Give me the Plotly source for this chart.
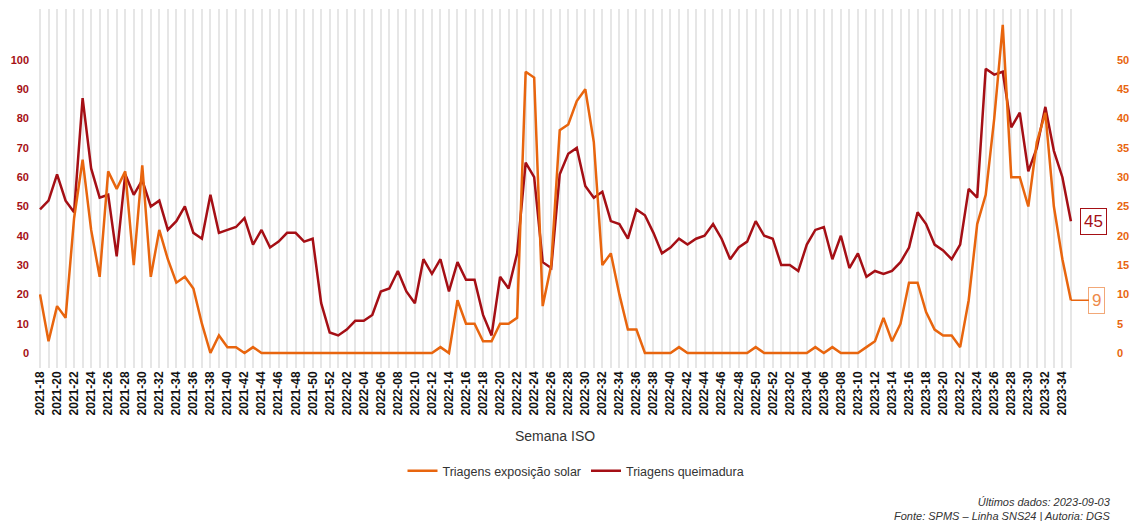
import plotly.graph_objects as go

# Semanas ISO (2021-18 a 2023-35)
semanas = ([f"2021-{w:02d}" for w in range(18, 53)]
           + [f"2022-{w:02d}" for w in range(1, 53)]
           + [f"2023-{w:02d}" for w in range(1, 36)])

# Triagens queimadura (eixo esquerdo)
queimadura = [
    49, 52, 61, 52, 48, 87, 63, 53, 54, 33, 61, 54, 59, 50, 52, 42, 45, 50, 41, 39,
    54, 41, 42, 43, 46, 37, 42, 36, 38, 41, 41, 38, 39, 17, 7, 6, 8, 11, 11, 13,
    21, 22, 28, 21, 17, 32, 27, 32, 21, 31, 25, 25, 13, 6, 26, 22, 34, 65, 60, 31,
    29, 61, 68, 70, 57, 53, 55, 45, 44, 39, 49, 47, 41, 34, 36, 39, 37, 39, 40, 44,
    39, 32, 36, 38, 45, 40, 39, 30, 30, 28, 37, 42, 43, 32, 40, 29, 34, 26, 28, 27,
    28, 31, 36, 48, 44, 37, 35, 32, 37, 56, 53, 97, 95, 96, 77, 82, 62, 70, 84, 69,
    60, 45,
]

# Triagens exposição solar (eixo direito)
exposicao = [
    10, 2, 8, 6, 23, 33, 21, 13, 31, 28, 31, 15, 32, 13, 21, 16, 12, 13, 11, 5,
    0, 3, 1, 1, 0, 1, 0, 0, 0, 0, 0, 0, 0, 0, 0, 0, 0, 0, 0, 0,
    0, 0, 0, 0, 0, 0, 0, 1, 0, 9, 5, 5, 2, 2, 5, 5, 6, 48, 47, 8,
    15, 38, 39, 43, 45, 36, 15, 17, 10, 4, 4, 0, 0, 0, 0, 1, 0, 0, 0, 0,
    0, 0, 0, 0, 1, 0, 0, 0, 0, 0, 0, 1, 0, 1, 0, 0, 0, 1, 2, 6,
    2, 5, 12, 12, 7, 4, 3, 3, 1, 9, 22, 27, 40, 56, 30, 30, 25, 36, 41, 25,
    16, 9,
]

ticks_esq = list(range(0, 101, 10))
ticks_dir = list(range(0, 51, 5))

VERMELHO = '#a50f15'
LARANJA = '#e8650e'
FONTE = 'Liberation Sans, Arial, sans-serif'

fig = go.Figure()

fig.add_trace(
    go.Scatter(
        x=semanas,
        y=exposicao,
        name='Triagens exposição solar',
        mode='lines',
        line=dict(color=LARANJA, width=2.5),
        yaxis='y2'
    )
)

fig.add_trace(
    go.Scatter(
        x=semanas,
        y=queimadura,
        name='Triagens queimadura',
        mode='lines',
        line=dict(color=VERMELHO, width=2.5)
    )
)

# Etiquetas do último valor
fig.add_annotation(
    x=semanas[-1], y=queimadura[-1], xref='x', yref='y',
    text=str(queimadura[-1]), showarrow=False, xshift=23,
    font=dict(family=FONTE, size=17, color=VERMELHO),
    bgcolor='white', bordercolor=VERMELHO, borderwidth=1, borderpad=3
)
fig.add_annotation(
    x=semanas[-1], y=exposicao[-1], xref='x', yref='y2',
    text=str(exposicao[-1]), showarrow=True, arrowhead=0,
    arrowcolor=LARANJA, arrowwidth=1.5, ax=26, ay=0,
    font=dict(family=FONTE, size=17, color='#ee8a4a'),
    bgcolor='white', bordercolor='#f2a878', borderwidth=1, borderpad=3
)

# Título do eixo x centrado nos dados
fig.add_annotation(
    x=(len(semanas) - 1) / 2, y=-0.19, xref='x', yref='paper',
    xanchor='center', yanchor='middle', showarrow=False,
    text='Semana ISO', font=dict(family=FONTE, size=14, color='#333333')
)

fig.add_annotation(
    x=1, y=-0.393, xref='paper', yref='paper',
    xanchor='right', yanchor='middle', align='right', showarrow=False,
    text='Últimos dados: 2023-09-03<br>Fonte: SPMS – Linha SNS24 | Autoria: DGS',
    font=dict(family=FONTE, size=11, color='#333333', style='italic')
)

fig.update_layout(
    template='none',
    width=1131,
    height=521,
    margin=dict(l=39, r=18, t=9, b=153),
    paper_bgcolor='white',
    plot_bgcolor='white',
    font=dict(family=FONTE, color='#333333'),
    showlegend=True,
    legend=dict(
        orientation='h', x=0.5, xanchor='center', y=-0.287, yanchor='middle',
        font=dict(family=FONTE, size=12.5, color='#333333')
    ),
    xaxis=dict(
        type='category',
        range=[-0.12, 125.94],
        tickmode='array',
        tickvals=semanas,
        ticktext=[s if i % 2 == 0 else '' for i, s in enumerate(semanas)],
        tickangle=-90,
        tickfont=dict(family=FONTE, size=12, color='#111111', weight='bold'),
        showgrid=True,
        gridcolor='#e6e6e6',
        gridwidth=1.5,
        showline=False,
        zeroline=False,
        ticks='',
        automargin=False
    ),
    yaxis=dict(
        range=[-5.12, 117.4],
        tickmode='array',
        tickvals=ticks_esq,
        tickfont=dict(family=FONTE, size=11, color=VERMELHO, weight='bold'),
        ticklabelstandoff=9,
        showgrid=False,
        zeroline=False,
        showline=False,
        ticks='',
        automargin=False
    ),
    yaxis2=dict(
        overlaying='y',
        side='right',
        anchor='x',
        range=[-2.56, 58.7],
        tickmode='array',
        tickvals=ticks_dir,
        tickfont=dict(family=FONTE, size=11, color=LARANJA, weight='bold'),
        ticklabelstandoff=3,
        showgrid=False,
        zeroline=False,
        showline=False,
        ticks='',
        automargin=False
    )
)

fig.write_html("out.html", config={'displayModeBar': False},
               post_script="document.body.style.margin='0';")
